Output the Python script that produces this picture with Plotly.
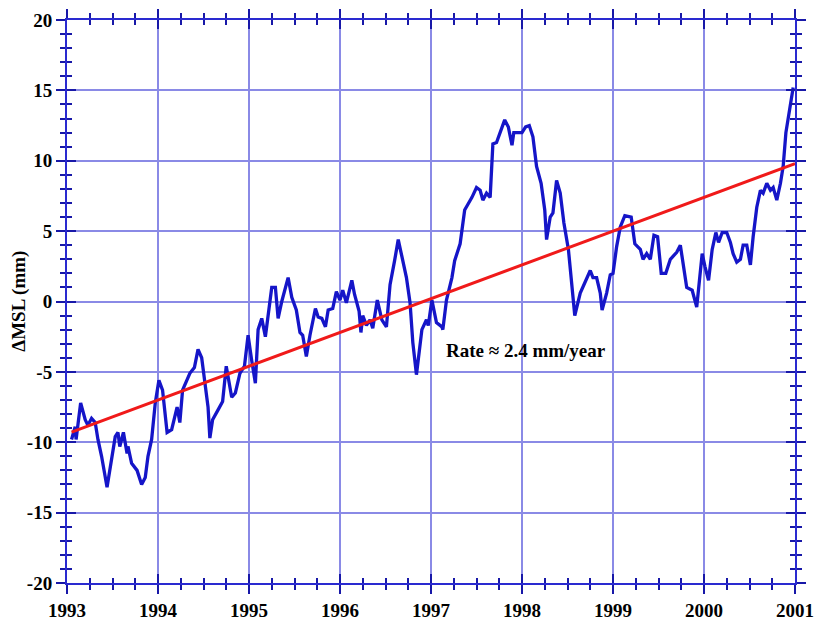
import plotly.graph_objects as go

# Global mean sea level change, 1993-2001 (mm)
years = [
    1993.05, 1993.09, 1993.10, 1993.15, 1993.20, 1993.23, 1993.27, 1993.31, 1993.34, 1993.38,
    1993.44, 1993.49, 1993.53, 1993.56, 1993.58, 1993.62, 1993.66, 1993.67, 1993.71, 1993.77,
    1993.82, 1993.86, 1993.89, 1993.93, 1993.97, 1994.01, 1994.05, 1994.10, 1994.15, 1994.21,
    1994.24, 1994.27, 1994.35, 1994.40, 1994.44, 1994.48, 1994.52, 1994.55, 1994.57, 1994.60,
    1994.66, 1994.71, 1994.75, 1994.81, 1994.85, 1994.90, 1994.95, 1994.99, 1995.03, 1995.07,
    1995.10, 1995.14, 1995.18, 1995.21, 1995.25, 1995.29, 1995.32, 1995.36, 1995.40, 1995.43,
    1995.47, 1995.52, 1995.56, 1995.59, 1995.63, 1995.67, 1995.73, 1995.76, 1995.80, 1995.84,
    1995.87, 1995.92, 1995.96, 1996.00, 1996.03, 1996.07, 1996.13, 1996.16, 1996.21, 1996.23,
    1996.25, 1996.29, 1996.33, 1996.36, 1996.41, 1996.46, 1996.51, 1996.55, 1996.60, 1996.64,
    1996.68, 1996.73, 1996.77, 1996.80, 1996.84, 1996.90, 1996.95, 1996.97, 1997.01, 1997.06,
    1997.12, 1997.13, 1997.17, 1997.23, 1997.26, 1997.32, 1997.37, 1997.45, 1997.50, 1997.54,
    1997.57, 1997.61, 1997.65, 1997.68, 1997.72, 1997.76, 1997.81, 1997.85, 1997.89, 1997.91,
    1997.96, 1998.00, 1998.04, 1998.08, 1998.12, 1998.16, 1998.21, 1998.25, 1998.27, 1998.31,
    1998.34, 1998.38, 1998.42, 1998.46, 1998.51, 1998.55, 1998.58, 1998.64, 1998.69, 1998.75,
    1998.78, 1998.82, 1998.86, 1998.88, 1998.93, 1998.97, 1999.00, 1999.04, 1999.08, 1999.13,
    1999.20, 1999.24, 1999.30, 1999.33, 1999.37, 1999.41, 1999.45, 1999.49, 1999.53, 1999.58,
    1999.63, 1999.70, 1999.74, 1999.77, 1999.81, 1999.87, 1999.92, 1999.95, 1999.98, 2000.01,
    2000.05, 2000.09, 2000.13, 2000.16, 2000.20, 2000.25, 2000.29, 2000.32, 2000.36, 2000.40,
    2000.43, 2000.47, 2000.51, 2000.54, 2000.58, 2000.62, 2000.65, 2000.69, 2000.73, 2000.76,
    2000.80, 2000.84, 2000.87, 2000.90, 2000.94, 2000.98,
]
msl_mm = [
    -9.8, -8.9, -9.8, -7.2, -8.4, -8.8, -8.3, -8.6, -9.8, -11.0,
    -13.2, -11.0, -9.6, -9.3, -10.3, -9.3, -10.8, -10.3, -11.5, -12.0,
    -13.0, -12.5, -11.0, -9.8, -7.2, -5.6, -6.3, -9.3, -9.1, -7.5,
    -8.6, -6.3, -5.1, -4.7, -3.4, -4.0, -5.8, -7.5, -9.7, -8.4,
    -7.7, -7.1, -4.6, -6.8, -6.5, -5.1, -4.6, -2.4, -4.2, -5.8,
    -2.0, -1.2, -2.5, -0.8, 1.0, 1.0, -1.2, 0.0, 1.0, 1.7,
    0.3, -0.6, -2.2, -2.4, -3.9, -2.4, -0.5, -1.1, -1.2, -1.8,
    -0.6, -0.5, 0.7, 0.1, 0.8, -0.1, 1.5, 0.5, -0.7, -2.2,
    -1.0, -1.7, -1.3, -1.9, 0.1, -1.3, -1.8, 1.2, 2.9, 4.4,
    3.2, 1.7, -0.1, -2.9, -5.2, -2.0, -1.3, -1.7, 0.1, -1.5,
    -1.8, -2.0, 0.1, 1.7, 2.9, 4.1, 6.5, 7.4, 8.1, 7.9,
    7.2, 7.7, 7.4, 11.2, 11.3, 12.0, 12.9, 12.4, 11.1, 12.0,
    12.0, 12.0, 12.4, 12.5, 11.7, 9.6, 8.4, 6.5, 4.4, 6.0,
    6.3, 8.6, 7.7, 5.6, 3.7, 1.0, -1.0, 0.6, 1.3, 2.2,
    1.7, 1.7, 0.6, -0.6, 0.6, 1.9, 2.0, 3.9, 5.3, 6.1,
    6.0, 4.1, 3.7, 3.0, 3.4, 3.0, 4.7, 4.6, 2.0, 2.0,
    3.0, 3.5, 4.0, 2.7, 1.0, 0.8, -0.4, 1.5, 3.4, 2.5,
    1.5, 3.7, 4.9, 4.2, 4.9, 4.9, 4.2, 3.4, 2.8, 3.0,
    4.0, 4.0, 2.6, 4.6, 6.7, 7.9, 7.7, 8.4, 7.9, 8.1,
    7.2, 8.4, 9.6, 12.0, 13.6, 15.2,
]

# Linear trend
trend_rate = 2.4          # mm/year
trend_ref_year = 1997.0
trend_ref_value = 0.2     # mm at reference year
trend_years = [years[0], 2001.0]
trend_values = [trend_ref_value + trend_rate * (t - trend_ref_year) for t in trend_years]

x_ticks = list(range(1993, 2002))
y_ticks = list(range(-20, 25, 5))

AXIS_BLUE = "#2a2ad0"
TICK_BLUE = "#1818a8"
GRID_BLUE = "#8a8ae6"
label_font = dict(family="Liberation Serif", size=19, color="black", weight="bold")

fig = go.Figure()
fig.add_trace(go.Scatter(
    x=years, y=msl_mm, mode="lines",
    line=dict(color="#1515c8", width=3.3), showlegend=False, hoverinfo="skip",
))
fig.add_trace(go.Scatter(
    x=trend_years, y=trend_values, mode="lines", xaxis="x2", yaxis="y2",
    line=dict(color="#f01a1a", width=3), showlegend=False, hoverinfo="skip",
))

common_axis = dict(
    showline=True, linecolor=AXIS_BLUE, linewidth=2,
    tickcolor=TICK_BLUE, tickwidth=2, zeroline=False, automargin=False,
)

fig.update_layout(
    width=815, height=620,
    margin=dict(l=67, r=20, t=20, b=37),
    paper_bgcolor="white", plot_bgcolor="white",
    xaxis=dict(
        range=[1993, 2001], tickvals=x_ticks, ticktext=[str(v) for v in x_ticks],
        ticks="outside", ticklen=9, mirror="ticks",
        showgrid=True, gridcolor=GRID_BLUE, gridwidth=1.5,
        minor=dict(tick0=1993, dtick=0.25, ticks="outside", ticklen=5,
                   tickcolor=TICK_BLUE, tickwidth=2, showgrid=False),
        tickfont=label_font, **common_axis,
    ),
    yaxis=dict(
        range=[-20, 20], tickvals=y_ticks, ticktext=[str(v) for v in y_ticks],
        ticks="outside", ticklen=9, mirror="ticks",
        showgrid=True, gridcolor=GRID_BLUE, gridwidth=1.5,
        minor=dict(tick0=-20, dtick=1, ticks="outside", ticklen=5,
                   tickcolor=TICK_BLUE, tickwidth=2, showgrid=False),
        tickfont=label_font,
        **common_axis,
    ),
    xaxis2=dict(
        overlaying="x", matches="x", anchor="y2", range=[1993, 2001],
        tickvals=x_ticks, ticks="inside", ticklen=9, mirror="ticks",
        showticklabels=False, showgrid=False,
        minor=dict(tick0=1993, dtick=0.25, ticks="inside", ticklen=5,
                   tickcolor=TICK_BLUE, tickwidth=2, showgrid=False),
        **common_axis,
    ),
    yaxis2=dict(
        overlaying="y", matches="y", anchor="x2", range=[-20, 20],
        tickvals=y_ticks, ticks="inside", ticklen=9, mirror="ticks",
        showticklabels=False, showgrid=False,
        minor=dict(tick0=-20, dtick=1, ticks="inside", ticklen=5,
                   tickcolor=TICK_BLUE, tickwidth=2, showgrid=False),
        **common_axis,
    ),
    annotations=[
        dict(
            x=1998.04, y=-3.45, xref="x", yref="y", showarrow=False,
            text="Rate ≈ 2.4 mm/year",
            font=dict(family="Liberation Serif", size=19, color="black", weight="bold"),
        ),
        # y-axis title
        dict(
            x=-0.067, y=0.5, xref="paper", yref="paper", showarrow=False,
            xanchor="center", yanchor="middle", textangle=-90,
            text="ΔMSL (mm)",
            font=dict(family="Liberation Serif", size=19, color="black", weight="bold"),
        ),
    ],
)

fig.write_html("out.html")
